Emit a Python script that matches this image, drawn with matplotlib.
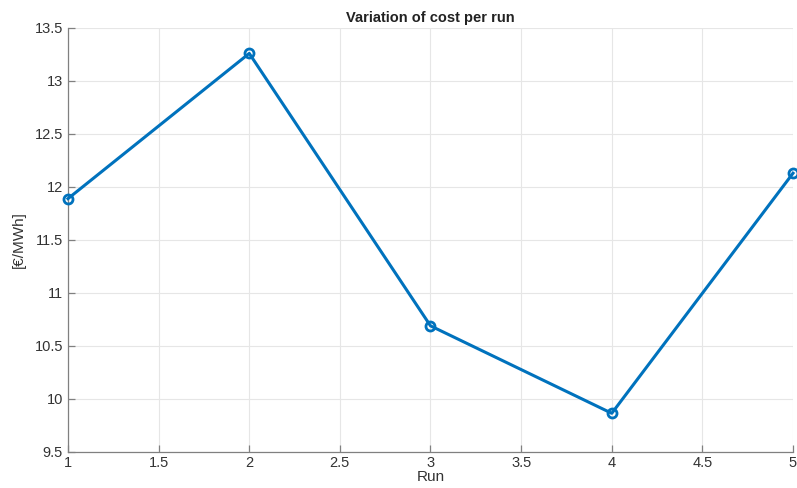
import matplotlib
matplotlib.use("Agg")
import matplotlib.pyplot as plt

runs = [1, 2, 3, 4, 5]
cost = [11.89, 13.26, 10.69, 9.865, 12.13]

x_ticks = [1, 1.5, 2, 2.5, 3, 3.5, 4, 4.5, 5]
x_labels = ["1", "1.5", "2", "2.5", "3", "3.5", "4", "4.5", "5"]
y_ticks = [9.5, 10, 10.5, 11, 11.5, 12, 12.5, 13, 13.5]
y_labels = ["9.5", "10", "10.5", "11", "11.5", "12", "12.5", "13", "13.5"]

plt.rcParams["font.family"] = ["Liberation Sans", "DejaVu Sans"]

fig = plt.figure(figsize=(7.97, 4.88), dpi=100)
ax = fig.add_axes([0.0853, 0.0738, 0.9097, 0.8689])

line_color = (0.0, 0.447, 0.741)
ax.plot(runs, cost, color=line_color, linewidth=2.2, marker="o",
        markersize=6.5, markerfacecolor="none", markeredgewidth=2.0,
        zorder=3, clip_on=False)

ax.set_xlim(1, 5)
ax.set_ylim(9.5, 13.5)
ax.set_xticks(x_ticks)
ax.set_xticklabels(x_labels)
ax.set_yticks(y_ticks)
ax.set_yticklabels(y_labels)

ax.grid(True, color="#e6e6e6", linewidth=0.8)
ax.set_axisbelow(True)

for side in ("top", "right"):
    ax.spines[side].set_visible(False)
for side in ("left", "bottom"):
    ax.spines[side].set_color("#808080")
    ax.spines[side].set_linewidth(0.9)

ax.tick_params(direction="in", length=5, width=0.9, color="#808080",
               labelcolor="#333333", labelsize=10.5)
ax.tick_params(axis="x", pad=3)

ax.set_title("Variation of cost per run", fontsize=10.5, fontweight="bold",
             color="#222222", pad=4)
ax.set_xlabel("Run", fontsize=11, color="#333333", labelpad=0)
ax.set_ylabel("[€/MWh]", fontsize=11, color="#333333", labelpad=6)

fig.savefig("out.png", dpi=100)
